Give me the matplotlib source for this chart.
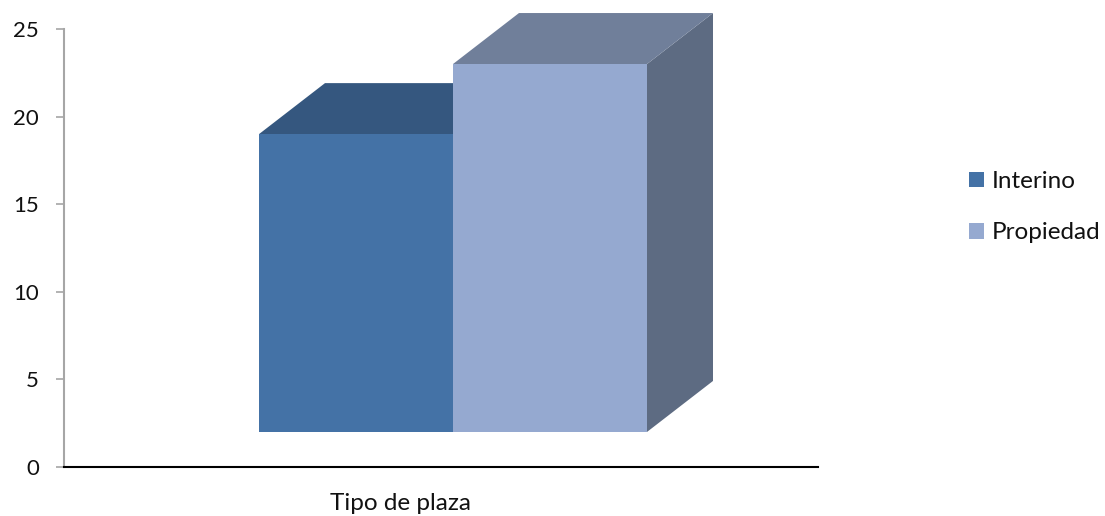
import matplotlib
matplotlib.use("Agg")
import matplotlib.pyplot as plt
from matplotlib.patches import Polygon

categories = ["Tipo de plaza"]
series = ["Interino", "Propiedad"]
values = [19, 23]
y_ticks = [0, 5, 10, 15, 20, 25]

front_colors = ["#4472A6", "#95A9D0"]
top_colors = ["#35577F", "#707F9A"]
side_colors = ["#34557D", "#5D6B82"]

W, H = 1105, 516
fig = plt.figure(figsize=(W / 100, H / 100), dpi=100)
ax_left, ax_right, ax_bot, ax_top = 64, 818, 467, 29
ax = fig.add_axes([ax_left / W, (H - ax_bot) / H, (ax_right - ax_left) / W, (ax_bot - ax_top) / H])
ax.set_xlim(0, ax_right - ax_left)
ax.set_ylim(0, 25)

px_per_unit = (ax_bot - ax_top) / 25.0
base = 2.0
bar_w = 194
x0 = 259 - ax_left
dx = 66
dy = 51 / px_per_unit

patches = []
for i, (name, v) in enumerate(zip(series, values)):
    xl = x0 + i * bar_w
    xr = xl + bar_w
    side = Polygon([(xr, base), (xr + dx, base + dy), (xr + dx, v + dy), (xr, v)],
                   closed=True, facecolor=side_colors[i], edgecolor="none", clip_on=False, zorder=2 + i)
    top = Polygon([(xl, v), (xl + dx, v + dy), (xr + dx, v + dy), (xr, v)],
                  closed=True, facecolor=top_colors[i], edgecolor="none", clip_on=False, zorder=2 + i)
    front = Polygon([(xl, base), (xr, base), (xr, v), (xl, v)],
                    closed=True, facecolor=front_colors[i], edgecolor="none", clip_on=False, zorder=2 + i, label=name)
    ax.add_patch(side)
    ax.add_patch(top)
    ax.add_patch(front)
    patches.append(front)

font = "Lato"
fs = 16
fs2 = 17.5
ax.set_yticks(y_ticks)
ax.set_yticklabels([str(t) for t in y_ticks], fontfamily=font, fontsize=fs, color="#111111")
ax.tick_params(axis="y", length=6, width=1.2, color="#A6A6A6", pad=12)
label_x = 401 - ax_left
ax.set_xticks([label_x])
ax.set_xticklabels(categories, fontfamily=font, fontsize=fs2, color="#111111")
ax.tick_params(axis="x", length=0, pad=19)

for s in ["top", "right"]:
    ax.spines[s].set_visible(False)
ax.spines["left"].set_color("#A6A6A6")
ax.spines["left"].set_linewidth(1.5)
ax.spines["bottom"].set_color("black")
ax.spines["bottom"].set_linewidth(1.5)

leg = fig.legend(handles=patches, labels=series, loc="upper left",
                 bbox_to_anchor=(969 / W, 1 - 171 / H), frameon=False,
                 prop={"family": font, "size": fs2}, handlelength=0.6, handleheight=0.6,
                 handletextpad=0.33, labelspacing=1.25, borderpad=0, borderaxespad=0)
for t in leg.get_texts():
    t.set_color("#111111")

fig.savefig("out.png", dpi=100)
